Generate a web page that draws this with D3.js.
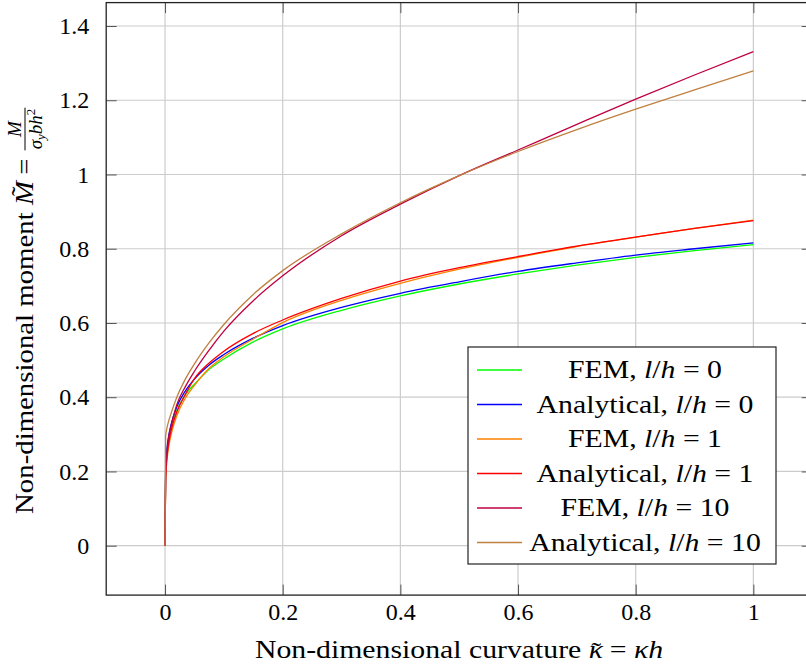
<!DOCTYPE html>
<html>
<head>
<meta charset="utf-8">
<script src="https://cdn.jsdelivr.net/npm/d3@7"></script>
<style>
body { margin: 0; background: #fff; }
svg { display: block; font-family: "Liberation Serif", "DejaVu Serif", serif; }
</style>
</head>
<body>
<svg id="chart" width="806" height="664"></svg>
<script>
// curvature values (x) shared by every series
var kappa = [0, 0.001, 0.003, 0.006, 0.01, 0.02, 0.035, 0.05, 0.075, 0.1, 0.15, 0.2, 0.3, 0.4, 0.5, 0.6, 0.7, 0.8, 0.9, 1.0];

// moment values
var femLh0  = [0, 0.197, 0.247, 0.284, 0.316, 0.364, 0.408, 0.435, 0.475, 0.503, 0.549, 0.584, 0.634, 0.673, 0.705, 0.732, 0.756, 0.777, 0.795, 0.811];
var anaLh0  = [0, 0.205, 0.256, 0.294, 0.325, 0.374, 0.418, 0.449, 0.487, 0.515, 0.559, 0.593, 0.642, 0.680, 0.711, 0.739, 0.762, 0.783, 0.800, 0.816];
var femLh1  = [0, 0.173, 0.224, 0.264, 0.297, 0.350, 0.399, 0.432, 0.478, 0.509, 0.557, 0.601, 0.661, 0.707, 0.745, 0.777, 0.806, 0.831, 0.855, 0.877];
var anaLh1  = [0, 0.183, 0.234, 0.274, 0.308, 0.360, 0.409, 0.450, 0.492, 0.524, 0.572, 0.608, 0.666, 0.713, 0.749, 0.779, 0.807, 0.831, 0.855, 0.876];
var femLh10 = [0, 0.190, 0.245, 0.290, 0.320, 0.380, 0.430, 0.470, 0.527, 0.578, 0.660, 0.727, 0.835, 0.920, 0.997, 1.066, 1.135, 1.203, 1.268, 1.331];
var anaLh10 = [0, 0.295, 0.315, 0.335, 0.355, 0.400, 0.450, 0.490, 0.547, 0.596, 0.677, 0.741, 0.840, 0.924, 0.997, 1.062, 1.121, 1.176, 1.228, 1.279];

var seriesValues = [femLh0, anaLh0, femLh1, anaLh1, femLh10, anaLh10];
var seriesMethod = ["FEM", "Analytical", "FEM", "Analytical", "FEM", "Analytical"];
var seriesLh = ["0", "0", "1", "1", "10", "10"];
var seriesColors = ["#00ff00", "#0000ff", "#ff8000", "#ff0000", "#bf0040", "#bf8040"];

var xTicks = [0, 0.2, 0.4, 0.6, 0.8, 1];
var yTicks = [0, 0.2, 0.4, 0.6, 0.8, 1, 1.2, 1.4];

var svg = d3.select("#chart");
var stretch = 1.19; // latin modern is wider than the serif we have
var fontPx = 25;

var x = d3.scaleLinear().domain([-0.1, 1.1]).range([106.2, 812.2]);
var y = d3.scaleLinear().domain([-0.1331, 1.4631]).range([595.1, 2.6]);

var pLeft = x.range()[0], pRight = x.range()[1];
var pTop = y.range()[1], pBottom = y.range()[0];

// grid
svg.append("g").selectAll("line")
  .data(xTicks).enter().append("line")
  .attr("x1", function(d) { return x(d); })
  .attr("x2", function(d) { return x(d); })
  .attr("y1", pTop).attr("y2", pBottom)
  .attr("stroke", "#cccccc").attr("stroke-width", 1.2);
svg.append("g").selectAll("line")
  .data(yTicks).enter().append("line")
  .attr("y1", function(d) { return y(d); })
  .attr("y2", function(d) { return y(d); })
  .attr("x1", pLeft).attr("x2", pRight)
  .attr("stroke", "#cccccc").attr("stroke-width", 1.2);

// clip for the curves
svg.append("clipPath").attr("id", "plotclip")
  .append("rect")
  .attr("x", pLeft).attr("y", pTop)
  .attr("width", pRight - pLeft).attr("height", pBottom - pTop);

var line = d3.line()
  .x(function(d) { return x(d[0]); })
  .y(function(d) { return y(d[1]); })
  .curve(d3.curveMonotoneX);

var plot = svg.append("g").attr("clip-path", "url(#plotclip)");
seriesValues.forEach(function(vals, i) {
  var pts = kappa.map(function(k, j) { return [k, vals[j]]; });
  plot.append("path")
    .datum(pts)
    .attr("d", line)
    .attr("fill", "none")
    .attr("stroke", seriesColors[i])
    .attr("stroke-width", 1.3);
});

// axes, ticks pointing inwards
function styleAxis(g) {
  g.select(".domain").remove();
  g.selectAll(".tick line").attr("stroke", "#555").attr("stroke-width", 1);
  g.selectAll(".tick text").attr("fill", "#000").style("font-size", "24px")
    .style("font-family", "'Liberation Serif', serif");
}

svg.append("g")
  .attr("transform", "translate(0," + pBottom + ")")
  .call(d3.axisBottom(x).tickValues(xTicks).tickSize(-10.5).tickPadding(8)
    .tickFormat(function(d) { return String(d); }))
  .call(styleAxis);
svg.append("g")
  .attr("transform", "translate(0," + pTop + ")")
  .call(d3.axisTop(x).tickValues(xTicks).tickSize(-10.5).tickFormat(""))
  .call(styleAxis);
svg.append("g")
  .attr("transform", "translate(" + pLeft + ",0)")
  .call(d3.axisLeft(y).tickValues(yTicks).tickSize(-10.5).tickPadding(17)
    .tickFormat(function(d) { return String(d); }))
  .call(styleAxis);
svg.append("g")
  .attr("transform", "translate(" + pRight + ",0)")
  .call(d3.axisRight(y).tickValues(yTicks).tickSize(-10.5).tickFormat(""))
  .call(styleAxis);

// box
svg.append("rect")
  .attr("x", pLeft).attr("y", pTop)
  .attr("width", pRight - pLeft).attr("height", pBottom - pTop)
  .attr("fill", "none").attr("stroke", "#222").attr("stroke-width", 1.3);

// text made of plain / italic pieces
function mathText(sel, parts, size) {
  var t = sel.append("text").style("font-size", size + "px");
  parts.forEach(function(p) {
    var s = t.append("tspan").text(p[0]).style("font-style", p[1] ? "italic" : "normal");
    if (p[2]) s.attr("dx", p[2]);
    if (p[3]) s.attr("dy", p[3]);
  });
  return t;
}
function widen(t, f) {
  var w = t.node().getComputedTextLength();
  t.attr("textLength", w * f).attr("lengthAdjust", "spacingAndGlyphs");
  return w * f;
}

// legend
var lg = svg.append("g");
lg.append("rect")
  .attr("x", 468).attr("y", 347).attr("width", 308).attr("height", 217)
  .attr("fill", "#fff").attr("stroke", "#222").attr("stroke-width", 1.2);
seriesValues.forEach(function(vals, i) {
  var cy = 370 + i * 34.5;
  lg.append("line")
    .attr("x1", 477).attr("x2", 522).attr("y1", cy).attr("y2", cy)
    .attr("stroke", seriesColors[i]).attr("stroke-width", 1.3);
  var t = mathText(lg, [[seriesMethod[i] + ", ", false], ["l", true], ["/", false], ["h", true],
    [" = ", false], [seriesLh[i], false]], fontPx)
    .attr("x", 645).attr("y", cy + 8.4).attr("text-anchor", "middle");
  widen(t, stretch);
});

// x label (tilde laid over the kappa by hand)
var xl = mathText(svg, [["Non-dimensional curvature ", false], ["\u03BA", true],
  ["\u02DC", false, -10, 1.5], [" = ", false, 1, -1.5], ["\u03BAh", true]], fontPx)
  .attr("x", 459).attr("y", 658).attr("text-anchor", "middle");
widen(xl, 1.16);

// y label, rotated, with the fraction at the end
var yg = svg.append("g").attr("transform", "translate(33,514) rotate(-90)");
var yl = mathText(yg, [["Non-dimensional moment ", false], ["M", true],
  ["\u02DC", false, -13, -4], [" =", false, 4, 4]], fontPx)
  .attr("x", 0).attr("y", 0);
var L = widen(yl, 1.12);
var fx = L + 9;
var den = yg.append("text").attr("x", fx).attr("y", 9).style("font-size", "19px");
den.append("tspan").text("\u03C3").style("font-style", "italic");
den.append("tspan").text("y").style("font-style", "italic").style("font-size", "13px").attr("dy", 3);
den.append("tspan").text("bh").style("font-style", "italic").attr("dy", -3);
den.append("tspan").text("2").style("font-size", "13px").attr("dy", -7);
var dw = den.node().getComputedTextLength();
yg.append("line")
  .attr("x1", fx - 1).attr("x2", fx + dw + 1)
  .attr("y1", -8).attr("y2", -8)
  .attr("stroke", "#000").attr("stroke-width", 1);
yg.append("text").attr("x", fx + dw / 2).attr("y", -12)
  .attr("text-anchor", "middle").style("font-size", "19px").style("font-style", "italic")
  .text("M");
</script>
</body>
</html>
